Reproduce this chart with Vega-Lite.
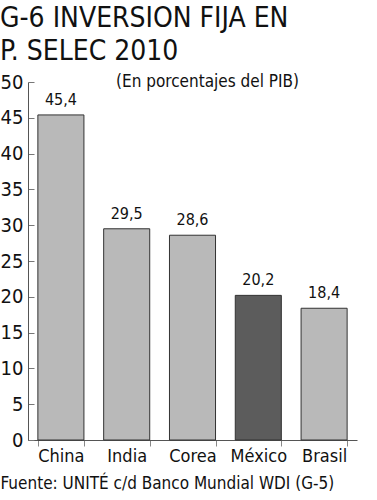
{
  "$schema": "https://vega.github.io/schema/vega-lite/v6.json",
  "width": 329,
  "height": 358,
  "autosize": "none",
  "padding": {"left": 28, "top": 82, "right": 20, "bottom": 60},
  "background": "white",
  "config": {
    "locale": {"number": {"decimal": ",", "thousands": ".", "grouping": [3], "currency": ["", " €"]}},
    "font": "DejaVu Sans Condensed, sans-serif",
    "view": {"stroke": null}
  },
  "title": {
    "text": ["G-6 INVERSION FIJA EN", "P. SELEC 2010"],
    "anchor": "start",
    "frame": "group",
    "dx": -28,
    "fontSize": 28,
    "fontWeight": "normal",
    "lineHeight": 33,
    "offset": 6,
    "color": "#111"
  },
  "data": {
    "values": [
      {"pais": "China", "value": 45.4},
      {"pais": "India", "value": 29.5},
      {"pais": "Corea", "value": 28.6},
      {"pais": "México", "value": 20.2},
      {"pais": "Brasil", "value": 18.4}
    ]
  },
  "encoding": {
    "x": {
      "field": "pais",
      "type": "nominal",
      "sort": null,
      "scale": {"paddingInner": 0.3, "paddingOuter": 0.15},
      "axis": {
        "title": "Fuente: UNITÉ c/d Banco Mundial WDI (G-5)",
        "titleAnchor": "start",
        "titleAlign": "left",
        "titleX": -28,
        "titleY": 35,
        "titleBaseline": "top",
        "titleFontSize": 17,
        "titleFontWeight": "normal",
        "titleColor": "#111",
        "labelAngle": 0,
        "labelFontSize": 18,
        "labelPadding": 1,
        "labelColor": "#111",
        "tickBand": "extent",
        "tickSize": 6,
        "tickColor": "#888",
        "domainColor": "#555"
      }
    },
    "y": {
      "field": "value",
      "type": "quantitative",
      "scale": {"domain": [0, 50], "nice": false},
      "axis": {
        "title": null,
        "values": [0, 5, 10, 15, 20, 25, 30, 35, 40, 45, 50],
        "tickSize": -6,
        "labelFontSize": 20,
        "labelPadding": 11,
        "labelColor": "#111",
        "tickColor": "#777",
        "domainColor": "#555",
        "grid": false
      }
    }
  },
  "layer": [
    {
      "mark": {"type": "bar", "stroke": "#333", "strokeWidth": 1},
      "encoding": {
        "fill": {
          "condition": {"test": "datum.pais === 'México'", "value": "#5c5c5c"},
          "value": "#b9b9b9"
        }
      }
    },
    {
      "mark": {"type": "text", "baseline": "alphabetic", "dy": -10, "fontSize": 16, "color": "#111"},
      "encoding": {"text": {"field": "value", "type": "quantitative", "format": ".1f"}}
    },
    {
      "data": {"values": [{"pais": "Corea", "value": 50, "nota": "(En porcentajes del PIB)"}]},
      "mark": {"type": "text", "baseline": "middle", "fontSize": 17, "dx": 15, "color": "#111"},
      "encoding": {"text": {"field": "nota"}}
    }
  ]
}
